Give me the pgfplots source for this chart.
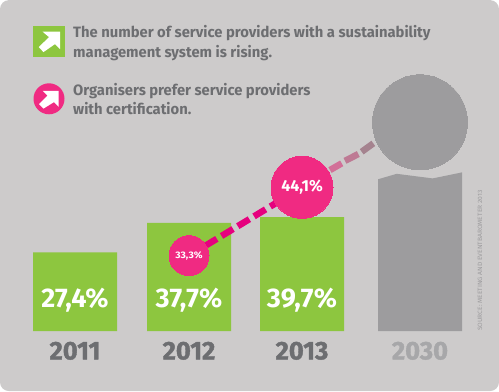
\documentclass[border=0pt]{standalone}
\usepackage{pgfplots}
\pgfplotsset{compat=1.18}
\usepackage{fontspec}
\setmainfont{Fira Sans}[BoldFont={Fira Sans Bold}]
\newfontfamily\headfont{Fira Sans Bold}[FakeStretch=0.985]
\newfontfamily\pctfont{Fira Sans Bold}
\newfontfamily\yearfont{Fira Sans Bold}[FakeBold=1.5]
\newfontfamily\srcfont{Fira Sans}[FakeStretch=1.08]
\definecolor{bg}{HTML}{CDCBCB}
\definecolor{grn}{HTML}{8DC63F}
\definecolor{pnk}{HTML}{F02A82}
\definecolor{dashc}{HTML}{E6007E}
\definecolor{gry}{HTML}{9D9C9E}
\definecolor{txt}{HTML}{6D6E71}
\definecolor{ltxt}{HTML}{A7A7A9}
\pgfplotstableread{
x val
75 27.4
189 37.7
302 39.7
}\greenbars
\begin{document}
\begin{tikzpicture}
\begin{scope}[x=1pt,y=-1pt,yshift=331pt]
\fill[bg,rounded corners=9pt] (0,0) rectangle (499,391);
\fill[grn] (32.7,26) rectangle (65.3,57);
\fill[white] (42.5,31.5) -- (60,31.5) -- (60,49) -- (55,44) -- (43.5,52) -- (38.8,47) -- (49,37) -- cycle;
\fill[pnk] (49,98.7) circle (15.5pt);
\fill[white] (42.7,90.7) -- (58.7,90.7) -- (58.7,106.7) -- (54,102) -- (43.5,108.5) -- (39,104) -- (47.5,95.5) -- cycle;
\node[anchor=base west,inner sep=0pt,text=txt,font=\headfont\fontsize{15}{17}\selectfont] at (73,37.7) {The number of service providers with a sustainability};
\node[anchor=base west,inner sep=0pt,text=txt,font=\headfont\fontsize{15}{17}\selectfont] at (73,57) {management system is rising.};
\node[anchor=base west,inner sep=0pt,text=txt,font=\headfont\fontsize{15}{17}\selectfont] at (73,95) {Organisers prefer service providers};
\node[anchor=base west,inner sep=0pt,text=txt,font=\headfont\fontsize{15}{17}\selectfont] at (73,114.3) {with certification.};
\node[rotate=90,anchor=base west,inner sep=0pt,text=gry,font=\srcfont\fontsize{6.2}{7}\selectfont] at (482,331) {SOURCE: MEETING AND EVENTBAROMETER 2013};
\end{scope}
\begin{axis}[
  at={(0,0)},anchor=south west,scale only axis,width=499pt,height=331pt,
  xmin=0,xmax=499,ymin=0,ymax=115.33,
  axis line style={draw=none},major tick length=0pt,
  ytick=\empty,xtick={75,189,302,420},
  xticklabels={2011,2012,2013,\textcolor{ltxt}{2030}},
  xticklabel style={text=txt,font=\yearfont\fontsize{25.5}{25.5}\selectfont,inner sep=0pt,yshift=-10.5pt},
  clip=false,
]
\addplot[ybar,bar width=84pt,fill=grn,draw=none] table[x=x,y=val] {\greenbars};
\addplot[fill=gry,draw=none] coordinates {(378,0) (378,52.9) (396.7,54.8) (432.7,53.2) (462,55.3) (462,0)} -- cycle;
\node[text=white,font=\pctfont\fontsize{27}{27}\selectfont] at (axis cs:75,10.9) {27,4\%};
\node[text=white,font=\pctfont\fontsize{27}{27}\selectfont] at (axis cs:189,10.9) {37,7\%};
\node[text=white,font=\pctfont\fontsize{27}{27}\selectfont] at (axis cs:302,10.9) {39,7\%};
\end{axis}
\begin{axis}[
  at={(0,0)},anchor=south west,scale only axis,width=499pt,height=331pt,
  xmin=0,xmax=499,ymin=21.36,ymax=73.73,hide axis,clip=false,
]
\addplot[dashc,line width=6.5pt,dash pattern=on 13.5pt off 5.5pt] coordinates {(189,33.3) (302,44.1)};
\addplot[color={rgb,255:red,210;green,112;blue,152},line width=6.5pt] coordinates {(330,46.84) (341.7,47.9)};
\addplot[color={rgb,255:red,190;green,122;blue,148},line width=6.5pt] coordinates {(345,48.3) (358.3,49.37)};
\addplot[color={rgb,255:red,165;green,131;blue,143},line width=6.5pt] coordinates {(361.7,49.73) (373.3,51.06)};
\addplot[only marks,mark=*,mark size=47.5pt,draw=gry,line width=0pt,mark options={fill=gry,draw=gry,line width=0pt}] coordinates {(420,54.4)};
\addplot[only marks,mark=*,mark size=20pt,draw=pnk,mark options={fill=pnk,draw=pnk,line width=0pt},
  nodes near coords={33,3\%},nodes near coords align={center},
  every node near coord/.append style={text=white,font=\srcfont\bfseries\fontsize{9.5}{10}\selectfont}] coordinates {(189,33.3)};
\addplot[only marks,mark=*,mark size=31pt,draw=pnk,mark options={fill=pnk,draw=pnk,line width=0pt},
  nodes near coords={44,1\%},nodes near coords align={center},
  every node near coord/.append style={text=white,font=\pctfont\fontsize{16}{16}\selectfont}] coordinates {(302,44.1)};
\end{axis}
\end{tikzpicture}
\end{document}
